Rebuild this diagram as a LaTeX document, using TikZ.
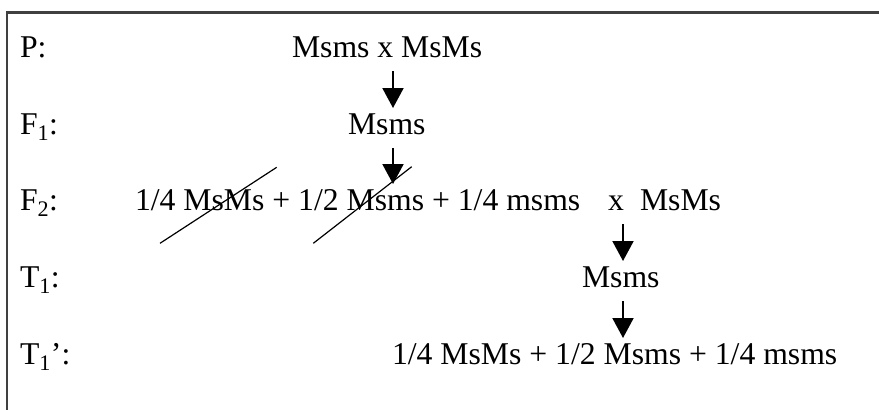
\documentclass[tikz,border=0pt]{standalone}
\usepackage{fontspec}
\setmainfont{Liberation Serif}
\usetikzlibrary{arrows.meta}
\definecolor{boxgray}{HTML}{404040}
\tikzset{
  txt/.style={inner sep=0pt, outer sep=0pt, anchor=base west, text height=21pt, text depth=0pt,
    font=\fontsize{31.7}{36}\selectfont},
  arr/.style={line width=2pt, -{Triangle[width=21pt,length=20pt]}, shorten <=14pt, shorten >=5pt},
  strike/.style={line width=1.2pt},
  frame/.style={line width=2.5pt, color=boxgray}
}
\begin{document}
\begin{tikzpicture}[x=1pt,y=-1pt]
\useasboundingbox (0,0) rectangle (879,410);
% frame (top and left edges)
\draw[frame] (7,410) -- (7,12.5) -- (879,12.5);
% row labels
\node[txt] (lp) at (20,57) {P:};
\node[txt] (lf1) at (20,134) {F\textsubscript{1}:};
\node[txt] (lf2) at (20,210) {F\textsubscript{2}:};
\node[txt] (lt1) at (20,287) {T\textsubscript{1}:};
\node[txt] (lt1p) at (20,364) {T\textsubscript{1}’:};
% generations
\node[txt] (p) at (292,57) {Msms x MsMs};
\node[txt] (f1) at (348,134) {Msms};
\node[txt] (f2a) at (135,210) {1/4 MsMs + 1/2 Msms + 1/4 msms};
\node[txt] (f2x) at (608,210) {x};
\node[txt] (f2b) at (640,210) {MsMs};
\node[txt] (t1) at (582,287) {Msms};
\node[txt] (t1p) at (392,364) {1/4 MsMs + 1/2 Msms + 1/4 msms};
% arrow columns
\coordinate (ca) at (393,0);
\coordinate (cb) at (623,0);
\draw[arr] (p.south -| ca) -- (f1.north -| ca);
\draw[arr] (f1.south -| ca) -- (f2a.north -| ca);
\draw[arr] (f2x.south -| cb) -- (t1.north -| cb);
\draw[arr] (t1.south -| cb) -- (t1p.north -| cb);
% strike-through lines
\draw[strike] (160,243.3) -- (276.7,167.3);
\draw[strike] (313.3,243.3) -- (411.7,166.7);
\end{tikzpicture}
\end{document}
